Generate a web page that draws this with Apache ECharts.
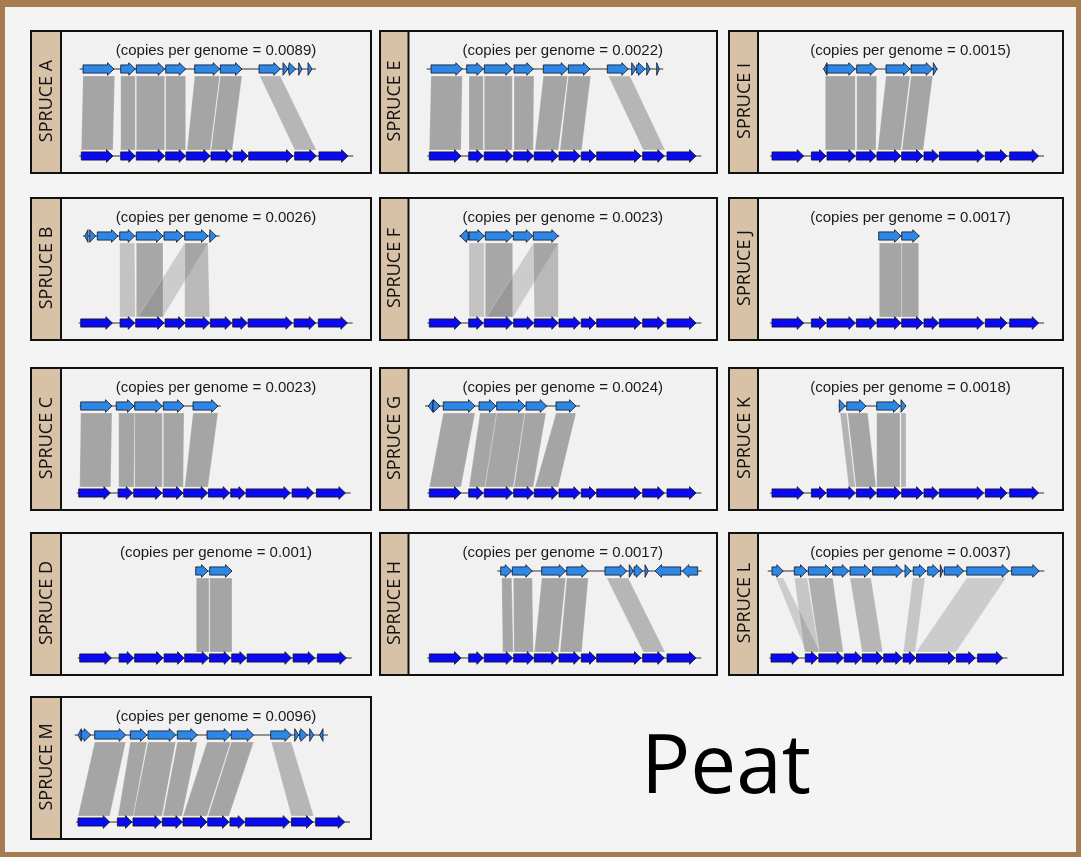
<!DOCTYPE html>
<html>
<head>
<meta charset="utf-8">
<script src="https://cdn.jsdelivr.net/npm/echarts@6/dist/echarts.min.js"></script>
<style>
  html, body { margin: 0; padding: 0; background: #ffffff; }
  #chart { width: 1081px; height: 857px; }
</style>
</head>
<body>
<div id="chart"></div>
<script>
// ---- Reference contig (bottom track), gene spans in kb from its first gene ----
const referenceGenes = [[0, 3.17], [3.94, 5.40], [5.50, 8.34], [8.44, 10.44], [10.50, 12.90],
                        [12.97, 15.10], [15.20, 16.67], [16.74, 21.17], [21.34, 23.50], [23.77, 26.67]];
const referenceSpan = [-0.2, 27.2];

// ---- Samples, in drawing order ----
const sampleNames = ['SPRUCE A', 'SPRUCE B', 'SPRUCE C', 'SPRUCE D', 'SPRUCE M',
                     'SPRUCE E', 'SPRUCE F', 'SPRUCE G', 'SPRUCE H',
                     'SPRUCE I', 'SPRUCE J', 'SPRUCE K', 'SPRUCE L'];
const copiesPerGenome = [0.0089, 0.0026, 0.0023, 0.001, 0.0096,
                         0.0022, 0.0023, 0.0024, 0.0017,
                         0.0015, 0.0017, 0.0018, 0.0037];
// where the reference contig starts in each panel (kb)
const refStarts = [2.03, 1.97, 1.77, 1.87, 1.70, 2.08, 2.08, 2.08, 2.08, 1.40, 1.40, 1.40, 1.50];

// ---- Query contigs: genes [start, end, strand], contig extent, and alignments
//      [queryStart, queryEnd, refStart, refEnd, identity shade] ----
const genesA = [[2.20, 5.30, 1], [5.97, 7.43, 1], [7.53, 10.37, 1], [10.47, 12.47, 1], [13.37, 15.87, 1],
                [15.93, 18.10, 1], [19.80, 21.93, 1], [22.20, 22.70, 1], [22.77, 23.47, 1], [23.77, 24.10, 1], [24.70, 25.10, 1]];
const contigA = [1.87, 25.50];
const linksA = [[2.20, 5.37, 2.03, 5.20, 0.62], [5.97, 7.43, 5.97, 7.43, 0.62], [7.53, 10.37, 7.53, 10.37, 0.62],
                [10.47, 12.47, 10.47, 12.47, 0.62], [13.37, 15.87, 12.60, 14.93, 0.62], [15.93, 18.10, 15.00, 17.13, 0.62],
                [19.87, 21.93, 23.37, 25.53, 0.48]];

const genesB = [[2.37, 2.70, -1], [2.87, 3.47, 1], [3.63, 5.70, 1], [5.87, 7.37, 1], [7.53, 10.20, 1],
                [10.30, 12.20, 1], [12.37, 14.70, 1], [14.87, 15.53, 1]];
const contigB = [2.20, 15.87];
const linksB = [[5.87, 7.37, 5.87, 7.43, 0.37], [7.53, 10.20, 7.53, 10.20, 0.6],
                [12.37, 14.70, 7.70, 10.20, 0.3], [12.37, 14.70, 12.37, 14.87, 0.45]];

const genesC = [[1.97, 5.10, 1], [5.53, 7.30, 1], [7.37, 10.13, 1], [10.23, 12.30, 1], [13.20, 15.70, 1]];
const contigC = [1.87, 15.97];
const linksC = [[1.97, 5.10, 1.87, 4.97, 0.62], [5.77, 7.37, 5.77, 7.30, 0.62], [7.37, 10.13, 7.37, 10.13, 0.62],
                [10.23, 12.30, 10.23, 12.23, 0.62], [13.20, 15.70, 12.37, 14.70, 0.62]];

const genesD = [[13.47, 14.70, 1], [14.87, 17.10, 1]];
const contigD = [13.47, 17.10];
const linksD = [[13.53, 14.80, 13.53, 14.80, 0.62], [14.87, 17.10, 14.87, 17.10, 0.62]];

const genesM = [[1.70, 2.03, -1], [2.03, 2.97, 1], [3.37, 6.47, 1], [6.93, 8.60, 1], [8.70, 11.47, 1],
                [11.63, 13.63, 1], [14.60, 16.97, 1], [17.03, 19.27, 1], [20.97, 23.03, 1], [23.37, 23.77, 1],
                [23.87, 24.63, 1], [24.87, 25.27, 1], [25.87, 26.20, -1]];
const contigM = [1.37, 26.70];
const linksM = [[3.37, 6.47, 1.70, 4.87, 0.62], [6.93, 8.60, 5.70, 7.23, 0.62], [8.70, 11.47, 7.23, 10.10, 0.62],
                [11.63, 13.63, 10.20, 12.10, 0.62], [14.60, 16.97, 12.20, 14.60, 0.62], [17.03, 19.27, 14.70, 16.80, 0.62],
                [21.03, 23.03, 23.03, 25.27, 0.48]];

const genesE = [[2.25, 5.38, 1], [5.82, 7.48, 1], [7.58, 10.38, 1], [10.55, 12.48, 1], [13.48, 15.92, 1],
                [15.98, 18.15, 1], [19.88, 21.98, 1], [22.32, 22.75, 1], [22.82, 23.65, 1], [23.82, 24.15, 1], [24.82, 25.08, 1]];
const contigE = [1.82, 25.48];
const linksE = [[2.25, 5.38, 2.08, 5.25, 0.62], [6.05, 7.48, 6.05, 7.48, 0.62], [7.58, 10.38, 7.58, 10.38, 0.62],
                [10.55, 12.55, 10.55, 12.48, 0.62], [13.48, 15.92, 12.65, 14.98, 0.62], [15.98, 18.22, 15.15, 17.32, 0.62],
                [19.98, 22.15, 23.48, 25.65, 0.48]];

const genesF = [[5.15, 5.98, -1], [6.05, 7.58, 1], [7.68, 10.42, 1], [10.48, 12.42, 1], [12.48, 14.98, 1]];
const contigF = [5.08, 15.08];
const linksF = [[6.05, 7.58, 6.05, 7.58, 0.37], [7.68, 10.42, 7.68, 10.42, 0.6],
                [12.48, 14.98, 7.82, 10.48, 0.3], [12.48, 14.98, 12.58, 14.98, 0.45]];

const genesG = [[1.98, 2.45, -1], [2.45, 3.15, 1], [3.48, 6.65, 1], [7.05, 8.75, 1], [8.82, 11.65, 1],
                [11.75, 13.82, 1], [14.75, 16.75, 1]];
const contigG = [1.65, 17.15];
const linksG = [[3.48, 6.65, 2.08, 5.25, 0.62], [7.15, 8.82, 6.05, 7.65, 0.62], [8.82, 11.65, 7.65, 10.48, 0.62],
                [11.65, 13.75, 10.55, 12.48, 0.62], [14.75, 16.75, 12.65, 14.98, 0.62]];

const genesH = [[9.22, 10.32, 1], [10.38, 12.38, 1], [13.32, 15.72, 1], [15.82, 17.98, 1], [19.65, 21.82, 1],
                [22.08, 22.48, 1], [22.55, 23.42, 1], [23.65, 23.98, 1], [24.65, 27.22, -1], [27.38, 28.92, -1]];
const contigH = [8.88, 29.32];
const linksH = [[9.32, 10.32, 9.42, 10.48, 0.62], [10.48, 12.38, 10.55, 12.48, 0.62], [13.32, 15.72, 12.58, 14.98, 0.62],
                [15.82, 17.98, 15.15, 17.32, 0.62], [19.82, 21.98, 23.48, 25.65, 0.48]];

const genesI = [[6.57, 6.90, -1], [6.90, 9.73, 1], [9.87, 11.87, 1], [12.80, 15.20, 1], [15.30, 17.47, 1], [17.53, 17.90, 1]];
const contigI = [6.47, 17.97];
const linksI = [[6.73, 9.73, 6.73, 9.73, 0.62], [9.87, 11.87, 9.87, 11.80, 0.62],
                [12.80, 15.20, 11.97, 14.30, 0.62], [15.30, 17.47, 14.40, 16.53, 0.62]];

const genesJ = [[12.07, 14.30, 1], [14.37, 16.13, 1]];
const contigJ = [12.07, 16.13];
const linksJ = [[12.13, 14.37, 12.13, 14.37, 0.62], [14.37, 16.07, 14.37, 16.07, 0.62]];

const genesK = [[8.13, 8.73, 1], [8.87, 10.80, 1], [11.87, 14.20, 1], [14.30, 14.80, 1]];
const contigK = [8.07, 14.80];
const linksK = [[8.20, 8.87, 9.07, 9.73, 0.5], [8.97, 10.97, 9.80, 11.80, 0.62],
                [11.87, 14.20, 11.87, 14.20, 0.62], [14.30, 14.80, 14.30, 14.80, 0.5]];

const genesL = [[1.61, 2.91, 1], [4.18, 5.64, 1], [5.79, 8.52, 1], [8.60, 10.44, 1], [10.59, 13.00, 1],
                [13.20, 16.65, 1], [16.92, 17.61, 1], [17.87, 19.33, 1], [19.53, 20.86, 1], [20.98, 21.25, 1],
                [21.44, 23.67, 1], [24.02, 28.85, 1], [29.19, 32.37, 1]];
const contigL = [1.12, 32.95];
const linksL = [[2.07, 2.91, 5.52, 7.13, 0.3], [4.18, 5.66, 5.33, 7.05, 0.35], [5.79, 8.60, 7.05, 9.82, 0.55],
                [10.59, 13.00, 11.97, 14.35, 0.48], [17.80, 19.22, 16.72, 18.10, 0.35], [24.02, 28.54, 18.18, 22.78, 0.3]];

const queryGenes = [genesA, genesB, genesC, genesD, genesM, genesE, genesF, genesG, genesH, genesI, genesJ, genesK, genesL];
const queryContigs = [contigA, contigB, contigC, contigD, contigM, contigE, contigF, contigG, contigH, contigI, contigJ, contigK, contigL];
const alignments = [linksA, linksB, linksC, linksD, linksM, linksE, linksF, linksG, linksH, linksI, linksJ, linksK, linksL];

// ---- Page layout ----
const columns = [
  { box: 31, inner: 61, right: 371 },
  { box: 380, inner: 408.5, right: 717 },
  { box: 729, inner: 758, right: 1063 }
];
const rowTops = [31, 198, 368, 533, 697];
const PANEL_H = 142;
const panelCells = [[0, 0], [0, 1], [0, 2], [0, 3], [0, 4],
                    [1, 0], [1, 1], [1, 2], [1, 3],
                    [2, 0], [2, 1], [2, 2], [2, 3]];
const pxPerKb = [10, 10, 10, 10, 10, 10, 10, 10, 10, 10, 10, 10, 8.69];

const QUERY_FILL = '#2c87e6';
const REF_FILL = '#0a0af0';
const HEAD_LEN = 6.5, BODY_H = 4.1, HEAD_H = 6.3;

function arrowPoints(x1, x2, y, strand) {
  const len = Math.max(x2 - x1, 1);
  if (strand >= 0) {
    if (len <= HEAD_LEN) return [[x1, y - HEAD_H], [x2, y], [x1, y + HEAD_H]];
    const xh = x2 - HEAD_LEN;
    return [[x1, y - BODY_H], [xh, y - BODY_H], [xh, y - HEAD_H], [x2, y],
            [xh, y + HEAD_H], [xh, y + BODY_H], [x1, y + BODY_H]];
  }
  if (len <= HEAD_LEN) return [[x2, y - HEAD_H], [x1, y], [x2, y + HEAD_H]];
  const xh = x1 + HEAD_LEN;
  return [[x2, y - BODY_H], [xh, y - BODY_H], [xh, y - HEAD_H], [x1, y],
          [xh, y + HEAD_H], [xh, y + BODY_H], [x2, y + BODY_H]];
}

function renderGene(params, api) {
  const row = api.value(3);
  const a = api.coord([api.value(0), row]);
  const b = api.coord([api.value(1), row]);
  return {
    type: 'polygon',
    shape: { points: arrowPoints(a[0], b[0], a[1], api.value(2)) },
    style: { fill: row === 1 ? QUERY_FILL : REF_FILL, stroke: '#101020', lineWidth: 0.8 }
  };
}

function renderContig(params, api) {
  const row = api.value(2);
  const a = api.coord([api.value(0), row]);
  const b = api.coord([api.value(1), row]);
  return {
    type: 'line',
    shape: { x1: a[0], y1: a[1], x2: b[0], y2: b[1] },
    style: { stroke: '#333', lineWidth: 1 }
  };
}

function renderLink(params, api) {
  const q1 = api.coord([api.value(0), 1]);
  const q2 = api.coord([api.value(1), 1]);
  const r1 = api.coord([api.value(2), 0]);
  const r2 = api.coord([api.value(3), 0]);
  const alpha = api.value(4);
  return {
    type: 'polygon',
    shape: { points: [[q1[0], q1[1] + 7], [q2[0], q2[1] + 7], [r2[0], r2[1] - 6], [r1[0], r1[1] - 6]] },
    style: { fill: 'rgba(118,118,118,' + alpha + ')', stroke: 'rgba(255,255,255,0.35)', lineWidth: 0.7 }
  };
}

const grids = [], xAxes = [], yAxes = [], series = [];
const graphics = [
  { type: 'rect', shape: { x: 0, y: 0, width: 1081, height: 857 }, style: { fill: '#a67b50' }, z: 0 },
  { type: 'rect', shape: { x: 5, y: 7, width: 1071, height: 845 }, style: { fill: '#f4f4f4' }, z: 0 }
];

sampleNames.forEach((name, i) => {
  const col = columns[panelCells[i][0]];
  const top = rowTops[panelCells[i][1]];
  const width = col.right - col.inner;

  // panel frame + label strip
  graphics.push({ type: 'rect', shape: { x: col.box, y: top, width: col.right - col.box, height: PANEL_H },
                  style: { fill: '#f1f1f1', stroke: '#111', lineWidth: 2 }, z: 0 });
  graphics.push({ type: 'rect', shape: { x: col.box, y: top, width: col.inner - col.box, height: PANEL_H },
                  style: { fill: '#d8c2a7', stroke: '#111', lineWidth: 2 }, z: 0 });
  graphics.push({ type: 'text', x: (col.box + col.inner) / 2 + 1, y: top + PANEL_H / 2 - 1, rotation: Math.PI / 2,
                  style: { text: name, font: '18px "Open Sans"', fill: '#111', textAlign: 'center', textVerticalAlign: 'middle', verticalAlign: 'middle' }, z: 1 });
  graphics.push({ type: 'text', x: (col.inner + col.right) / 2, y: top + 20,
                  style: { text: '(copies per genome = ' + copiesPerGenome[i] + ')', font: '15px "Liberation Sans", Arial, sans-serif',
                           fill: '#1a1a1a', textAlign: 'center', textVerticalAlign: 'middle', verticalAlign: 'middle' }, z: 1 });

  grids.push({ left: col.inner, top: top + 38, width: width, height: 87 });
  xAxes.push({ type: 'value', gridIndex: i, min: 0, max: width / pxPerKb[i], show: false });
  yAxes.push({ type: 'value', gridIndex: i, min: 0, max: 1, show: false });

  const rs = refStarts[i];
  const common = { type: 'custom', coordinateSystem: 'cartesian2d', xAxisIndex: i, yAxisIndex: i, silent: true, z: 3 };

  series.push(Object.assign({}, common, {
    name: name + ' alignments', renderItem: renderLink, data: alignments[i]
  }));
  series.push(Object.assign({}, common, {
    name: name + ' contigs', renderItem: renderContig,
    data: [[queryContigs[i][0], queryContigs[i][1], 1], [rs + referenceSpan[0], rs + referenceSpan[1], 0]]
  }));
  series.push(Object.assign({}, common, {
    name: name + ' genes', renderItem: renderGene,
    data: queryGenes[i].map(g => [g[0], g[1], g[2], 1])
            .concat(referenceGenes.map(g => [rs + g[0], rs + g[1], 1, 0]))
  }));
});

graphics.push({ type: 'text', x: 726, y: 770,
                style: { text: 'Peat', font: '82px "Open Sans"', fill: '#000', textAlign: 'center', textVerticalAlign: 'middle', verticalAlign: 'middle' }, z: 1 });

const chart = echarts.init(document.getElementById('chart'), null, { renderer: 'canvas' });
chart.setOption({
  animation: false,
  backgroundColor: '#ffffff',
  graphic: { elements: graphics },
  grid: grids,
  xAxis: xAxes,
  yAxis: yAxes,
  series: series
});
</script>
</body>
</html>
